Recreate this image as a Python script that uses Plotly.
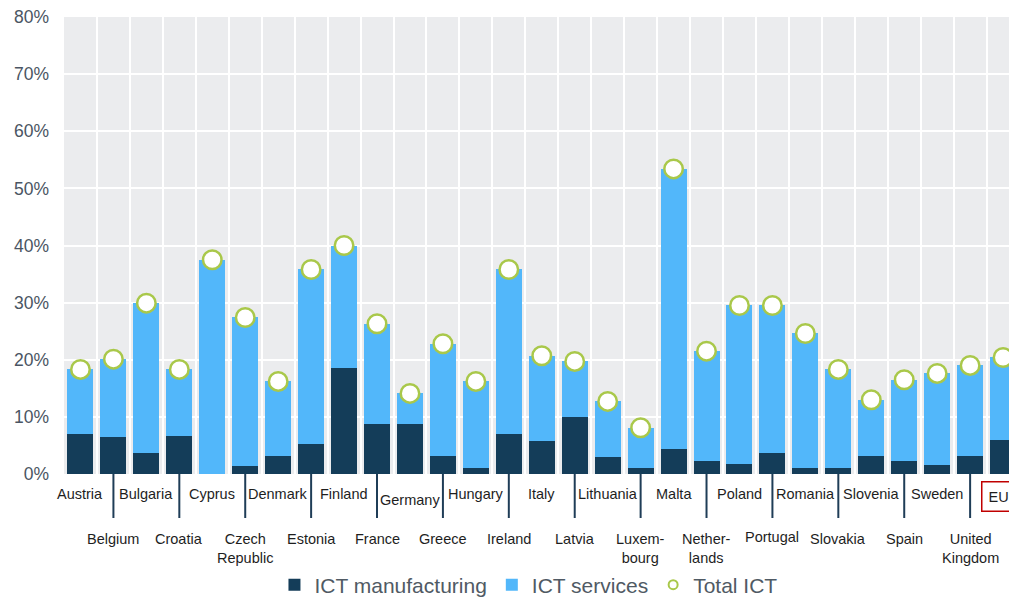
import plotly.graph_objects as go

countries = ["Austria", "Belgium", "Bulgaria", "Croatia", "Cyprus", "Czech Republic", "Denmark",
             "Estonia", "Finland", "France", "Germany", "Greece", "Hungary", "Ireland", "Italy",
             "Latvia", "Lithuania", "Luxembourg", "Malta", "Netherlands", "Poland", "Portugal",
             "Romania", "Slovakia", "Slovenia", "Spain", "Sweden", "United Kingdom", "EU"]
tick_labels = ["Austria", "Belgium", "Bulgaria", "Croatia", "Cyprus", "Czech<br>Republic", "Denmark",
               "Estonia", "Finland", "France", "Germany", "Greece", "Hungary", "Ireland", "Italy",
               "Latvia", "Lithuania", "Luxem-<br>bourg", "Malta", "Nether-<br>lands", "Poland", "Portugal",
               "Romania", "Slovakia", "Slovenia", "Spain", "Sweden", "United<br>Kingdom", "EU"]
ict_manufacturing = [7.0, 6.4, 3.6, 6.7, 0.0, 1.4, 3.2, 5.3, 18.6, 8.8, 8.8, 3.2, 1.0, 7.0, 5.7,
                     9.9, 2.9, 1.0, 4.3, 2.2, 1.8, 3.6, 1.1, 1.1, 3.2, 2.2, 1.5, 3.2, 6.0]
ict_services = [11.3, 13.7, 26.3, 11.6, 37.5, 26.0, 13.0, 30.5, 21.4, 17.5, 5.3, 19.6, 15.2, 28.8, 15.0,
                9.8, 9.8, 7.1, 49.1, 19.3, 27.7, 25.9, 23.5, 17.2, 9.8, 14.3, 16.1, 15.8, 14.4]
total_ict = [18.3, 20.1, 29.9, 18.3, 37.5, 27.4, 16.2, 35.8, 40.0, 26.3, 14.1, 22.8, 16.2, 35.8, 20.7,
             19.7, 12.7, 8.1, 53.4, 21.5, 29.5, 29.5, 24.6, 18.3, 13.0, 16.5, 17.6, 19.0, 20.4]
y_ticks = [0, 10, 20, 30, 40, 50, 60, 70, 80]
y_tick_text = ["0%", "10%", "20%", "30%", "40%", "50%", "60%", "70%", "80%"]

NAVY = "#143d59"
BLUE = "#52b7fa"
GREEN = "#a9c84a"
FONT = "Liberation Sans"

fig = go.Figure()
fig.add_trace(go.Bar(x=countries, y=ict_manufacturing, name="ICT manufacturing",
                     marker=dict(color=NAVY, line=dict(width=0))))
fig.add_trace(go.Bar(x=countries, y=ict_services, name="ICT services",
                     marker=dict(color=BLUE, line=dict(width=0))))
fig.add_trace(go.Scatter(x=countries, y=total_ict, mode="markers", showlegend=False,
                         marker=dict(size=18.5, color="white", line=dict(color=GREEN, width=2.5))))
fig.add_trace(go.Scatter(x=[None], y=[None], mode="markers", name="Total ICT",
                         marker=dict(size=9, color="white", line=dict(color=GREEN, width=2))))

W, H, T, B = 1001, 591, 9, 125
plot_h = H - T - B
for i, (c, lab) in enumerate(zip(countries, tick_labels)):
    odd = i % 2 == 1
    ann = dict(x=c, xref="x", yref="paper", text=lab, showarrow=False,
               yanchor="top", xanchor="center",
               font=dict(family=FONT, size=14.5, color="#1e1e1e"),
               y=-(55 if odd else 10) / plot_h)
    if c == "Germany":
        ann["yshift"] = -6
    if c == "Portugal":
        ann["yshift"] = 2
    if c == "EU":
        ann.update(bordercolor="#c00000", borderwidth=1.5, borderpad=6, y=-7 / plot_h, xshift=-5)
    fig.add_annotation(**ann)
    if odd:
        fig.add_shape(type="line", xref="x", yref="paper", x0=c, x1=c, y0=0, y1=-44 / plot_h,
                      line=dict(color="#1f3d57", width=2))

fig.update_layout(
    autosize=False, width=W, height=H,
    margin=dict(l=56, r=0, t=T, b=B, autoexpand=False),
    barmode="stack", bargap=0.21,
    plot_bgcolor="#ebecee", paper_bgcolor="white",
    font=dict(family=FONT),
    legend=dict(orientation="h", x=0.4915, xanchor="center", y=-111 / plot_h, yanchor="middle",
                font=dict(family=FONT, size=21, color="#505a64"), itemwidth=30,
                traceorder="normal"),
    xaxis=dict(type="category", range=[-0.5, 28.18], showticklabels=False, tickson="boundaries",
               showgrid=True, gridcolor="white", gridwidth=2, ticks=""),
    yaxis=dict(range=[0, 80], tickmode="array", tickvals=y_ticks, ticktext=y_tick_text,
               showgrid=True, gridcolor="white", gridwidth=2, zeroline=False, ticklabelstandoff=14,
               ticklabeloverflow="allow",
               tickfont=dict(family=FONT, size=17.5, color="#4a5563")),
)

fig.write_html("out.html")
